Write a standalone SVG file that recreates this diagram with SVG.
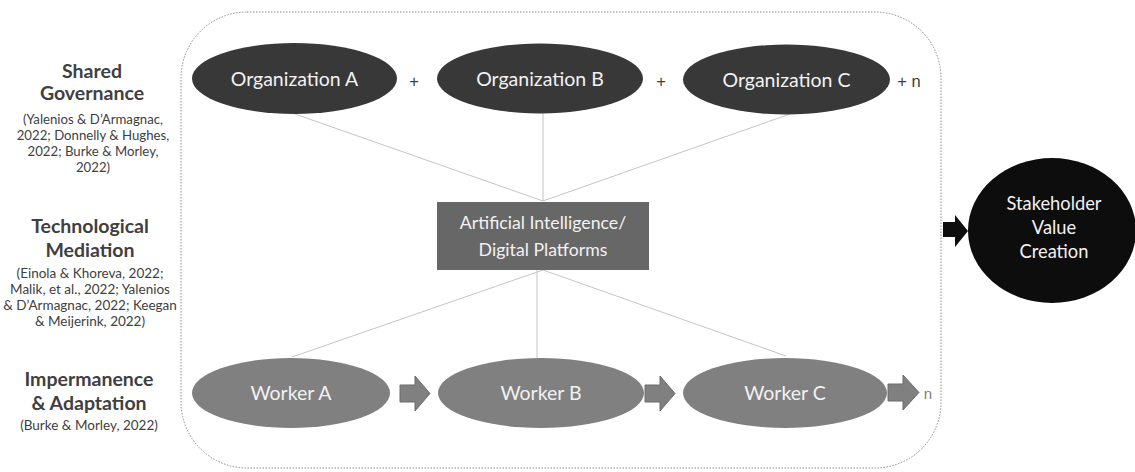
<svg xmlns="http://www.w3.org/2000/svg" width="1135" height="472" viewBox="0 0 1135 472">
  <defs>
    <style>
      text { font-family: Lato, "Liberation Sans", sans-serif; text-anchor: middle; }
      .head { font-size: 19.5px; font-weight: bold; fill: #404040; }
      .cite { font-size: 13.5px; fill: #404040; }
      .org { fill: #383838; }
      .worker { fill: #808080; }
      .lbl { font-size: 19.5px; fill: #f2f2f2; }
      .plus { font-family: "Liberation Sans", sans-serif; font-size: 16.5px; fill: #404040; }
      .link { stroke: #c4c4c4; stroke-width: 1; fill: none; }
      .step { fill: #808080; stroke: #6b6b6b; stroke-width: 1; }
    </style>
  </defs>

  <!-- dotted boundary of the collaborative system -->
  <rect x="181" y="12" width="760" height="456" rx="66" ry="66" fill="none" stroke="#8a8a8a" stroke-width="1" stroke-dasharray="1.5 1.5"/>

  <!-- row labels -->
  <g id="label-governance">
    <text class="head" x="92" y="78">Shared</text>
    <text class="head" x="92" y="100">Governance</text>
    <text class="cite" x="93" y="124" style="font-size:13.2px">(Yalenios &amp; D’Armagnac,</text>
    <text class="cite" x="93" y="140" style="font-size:13.2px">2022; Donnelly &amp; Hughes,</text>
    <text class="cite" x="93" y="156" style="font-size:13.2px">2022; Burke &amp; Morley,</text>
    <text class="cite" x="93" y="172" style="font-size:13.2px">2022)</text>
  </g>
  <g id="label-mediation">
    <text class="head" x="90" y="233">Technological</text>
    <text class="head" x="90" y="257">Mediation</text>
    <text class="cite" x="90" y="278">(Einola &amp; Khoreva, 2022;</text>
    <text class="cite" x="90" y="294">Malik, et al., 2022; Yalenios</text>
    <text class="cite" x="90" y="310">&amp; D’Armagnac, 2022; Keegan</text>
    <text class="cite" x="90" y="326">&amp; Meijerink, 2022)</text>
  </g>
  <g id="label-impermanence">
    <text class="head" x="89" y="386">Impermanence</text>
    <text class="head" x="89" y="410">&amp; Adaptation</text>
    <text class="cite" x="89" y="430">(Burke &amp; Morley, 2022)</text>
  </g>

  <!-- connectors -->
  <g id="connectors">
    <line class="link" x1="295" y1="114" x2="543" y2="201"/>
    <line class="link" x1="543" y1="113" x2="543" y2="201"/>
    <line class="link" x1="790" y1="114" x2="543" y2="201"/>
    <line class="link" x1="543" y1="270" x2="292" y2="357"/>
    <line class="link" x1="537" y1="270" x2="537" y2="358"/>
    <line class="link" x1="543" y1="270" x2="786" y2="356"/>
    <!-- sequence arrows between workers -->
    <polygon class="step" points="400,385 415,385 415,376 430,393.5 415,411 415,402 400,402"/>
    <polygon class="step" points="645,385 660,385 660,376 675,393.5 660,411 660,402 645,402"/>
    <polygon class="step" points="888,384 903,384 903,375 919,392.5 903,410 903,401 888,401"/>
    <!-- outcome arrow -->
    <polygon fill="#0d0d0d" points="943,222 955,222 955,215 968,231 955,247 955,237 943,237"/>
  </g>

  <!-- organizations -->
  <g id="org-a">
    <ellipse class="org" cx="294.5" cy="78.5" rx="102.5" ry="35.5"/>
    <text class="lbl" x="294.5" y="86">Organization A</text>
  </g>
  <text class="plus" x="414" y="87">+</text>
  <g id="org-b">
    <ellipse class="org" cx="540" cy="78.5" rx="103" ry="35"/>
    <text class="lbl" x="540" y="86">Organization B</text>
  </g>
  <text class="plus" x="661" y="87">+</text>
  <g id="org-c">
    <ellipse class="org" cx="786.5" cy="79.5" rx="103.5" ry="35"/>
    <text class="lbl" x="786.5" y="87">Organization C</text>
  </g>
  <text class="plus" x="909" y="87">+ n</text>

  <!-- platform -->
  <g id="platform">
    <rect x="437" y="202" width="212" height="68" fill="#676767"/>
    <text class="lbl" x="543" y="229" style="font-size:17.7px">Artificial Intelligence/</text>
    <text class="lbl" x="543" y="256" style="font-size:17.7px">Digital Platforms</text>
  </g>

  <!-- workers -->
  <g id="worker-a">
    <ellipse class="worker" cx="291" cy="393" rx="99" ry="35"/>
    <text class="lbl" x="291" y="400">Worker A</text>
  </g>
  <g id="worker-b">
    <ellipse class="worker" cx="541" cy="393" rx="103" ry="35"/>
    <text class="lbl" x="541" y="400">Worker B</text>
  </g>
  <g id="worker-c">
    <ellipse class="worker" cx="785" cy="393" rx="102" ry="35"/>
    <text class="lbl" x="785" y="400">Worker C</text>
  </g>
  <text x="928" y="399" style="font-family:'Liberation Sans',sans-serif;font-size:15px;fill:#808080">n</text>

  <!-- outcome -->
  <g id="stakeholder-value">
    <ellipse cx="1052" cy="230.5" rx="84" ry="72.5" fill="#0d0d0d"/>
    <text x="1054" y="210" style="font-size:18.3px;fill:#f2f2f2">Stakeholder</text>
    <text x="1054" y="234" style="font-size:18.3px;fill:#f2f2f2">Value</text>
    <text x="1054" y="258" style="font-size:18.3px;fill:#f2f2f2">Creation</text>
  </g>
</svg>
